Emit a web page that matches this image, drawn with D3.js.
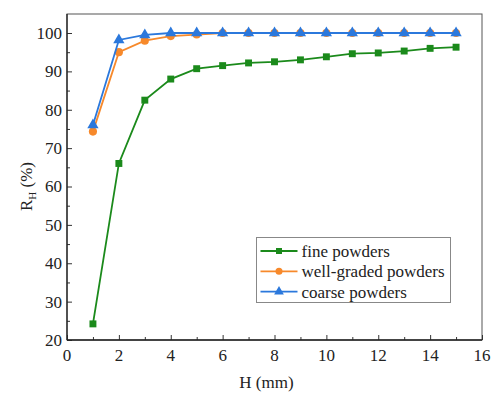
<!DOCTYPE html>
<html>
<head>
<meta charset="utf-8">
<script src="https://cdn.jsdelivr.net/npm/d3@7"></script>
<style>
  body { margin: 0; background: #fff; }
  svg text { font-family: "Liberation Serif", "DejaVu Serif", serif; fill: #222; }
</style>
</head>
<body>
<div id="chart"></div>
<script>
// Data
const hValues = [1, 2, 3, 4, 5, 6, 7, 8, 9, 10, 11, 12, 13, 14, 15];
const finePowders = [24.2, 66, 82.5, 88, 90.7, 91.5, 92.2, 92.5, 93, 93.8, 94.6, 94.8, 95.3, 96, 96.3];
const wellGraded = [74.3, 95, 98, 99.2, 99.6, 100, 100, 100, 100, 100, 100, 100, 100, 100, 100];
const coarsePowders = [76, 98.2, 99.5, 100, 100, 100, 100, 100, 100, 100, 100, 100, 100, 100, 100];
const seriesNames = ["fine powders", "well-graded powders", "coarse powders"];
const xTicks = [0, 2, 4, 6, 8, 10, 12, 14, 16];
const yTicks = [20, 30, 40, 50, 60, 70, 80, 90, 100];

const W = 491, H = 396;
const margin = { top: 14, right: 9, bottom: 56, left: 67 };
const width = W - margin.left - margin.right;
const height = H - margin.top - margin.bottom;
const FONT = "'Liberation Serif', 'DejaVu Serif', serif";

const svg = d3.select("#chart").append("svg")
  .attr("width", W).attr("height", H)
  .attr("font-family", FONT);
const g = svg.append("g")
  .attr("transform", `translate(${margin.left},${margin.top})`);

const x = d3.scaleLinear().domain([0, 16]).range([0, width]);
// 20 sits at the bottom axis, 100 a bit below the top frame
const y = d3.scaleLinear().domain([20, 100]).range([height, 19]);

// frame (top and right)
g.append("rect")
  .attr("x", 0).attr("y", 0).attr("width", width).attr("height", height)
  .attr("fill", "none").attr("stroke", "#555").attr("stroke-width", 1);

// X axis, inward ticks
const xAxis = g.append("g").attr("transform", `translate(0,${height})`);
xAxis.call(d3.axisBottom(x).tickValues(d3.range(0, 17, 1)).tickSize(-3).tickFormat(""));
xAxis.call(ax => ax.select(".domain").remove());
xAxis.selectAll(".tick line").attr("stroke", "#333")
  .attr("y2", d => d % 2 === 0 ? -5 : -3);
const xLab = g.append("g").attr("transform", `translate(0,${height})`);
xLab.selectAll("text").data(xTicks).enter().append("text")
  .attr("x", d => x(d)).attr("y", 21)
  .attr("text-anchor", "middle")
  .style("font-family", FONT)
  .style("font-size", "17px")
  .text(d => d);

// Y axis, inward ticks
const yAxis = g.append("g");
yAxis.call(d3.axisLeft(y).tickValues(d3.range(20, 101, 5)).tickSize(-3).tickFormat(""));
yAxis.call(ax => ax.select(".domain").remove());
yAxis.selectAll(".tick line").attr("stroke", "#333")
  .attr("x2", d => d % 10 === 0 ? 5 : 3);
g.selectAll(".ylab").data(yTicks).enter().append("text")
  .attr("class", "ylab")
  .attr("x", -5).attr("y", d => y(d)).attr("dy", "0.35em")
  .attr("text-anchor", "end")
  .style("font-family", FONT)
  .style("font-size", "17px")
  .text(d => d);

// axis lines on top
g.append("line").attr("x1", 0).attr("x2", width).attr("y1", height).attr("y2", height)
  .attr("stroke", "#222").attr("stroke-width", 1.3);
g.append("line").attr("x1", 0).attr("x2", 0).attr("y1", 0).attr("y2", height)
  .attr("stroke", "#222").attr("stroke-width", 1.3);

// axis titles
g.append("text")
  .attr("x", width / 2 - 8).attr("y", height + 48)
  .attr("text-anchor", "middle")
  .style("font-family", FONT)
  .style("font-size", "17px")
  .text("H (mm)");

const yTitle = g.append("text")
  .attr("transform", `translate(-35,${y(60)}) rotate(-90)`)
  .attr("text-anchor", "middle")
  .style("font-family", FONT)
  .style("font-size", "17px");
yTitle.append("tspan").text("R");
yTitle.append("tspan").attr("dy", 4).style("font-size", "11px").text("H");
yTitle.append("tspan").attr("dy", -4).text(" (%)");

// series
const colors = ["#1b8a1b", "#f7892b", "#2b78dc"];
const series = [finePowders, wellGraded, coarsePowders];
const symbols = [d3.symbolSquare, d3.symbolCircle, d3.symbolTriangle];
const symSizes = [48, 52, 55];

const line = d3.line().x((d, i) => x(hValues[i])).y(d => y(d));

series.forEach((vals, s) => {
  g.append("path").datum(vals)
    .attr("d", line)
    .attr("fill", "none")
    .attr("stroke", colors[s])
    .attr("stroke-width", 1.8);
  g.selectAll(".m" + s).data(vals).enter().append("path")
    .attr("class", "m" + s)
    .attr("transform", (d, i) => `translate(${x(hValues[i])},${y(d)})`)
    .attr("d", d3.symbol().type(symbols[s]).size(symSizes[s]))
    .attr("fill", colors[s]);
});

// legend
const lg = g.append("g").attr("transform", `translate(${256.5 - margin.left},${237.5 - margin.top})`);
lg.append("rect")
  .attr("width", 194).attr("height", 65)
  .attr("fill", "#fff").attr("stroke", "#888").attr("stroke-width", 1);
seriesNames.forEach((name, s) => {
  const yy = 13.5 + s * 20.3;
  lg.append("line").attr("x1", 4).attr("x2", 41).attr("y1", yy).attr("y2", yy)
    .attr("stroke", colors[s]).attr("stroke-width", 1.8);
  lg.append("path")
    .attr("transform", `translate(22.5,${yy})`)
    .attr("d", d3.symbol().type(symbols[s]).size(symSizes[s] * 0.75))
    .attr("fill", colors[s]);
  lg.append("text")
    .attr("x", 45).attr("y", yy).attr("dy", "0.35em")
    .style("font-family", FONT)
    .style("font-size", "17px")
    .text(name);
});
</script>
</body>
</html>
